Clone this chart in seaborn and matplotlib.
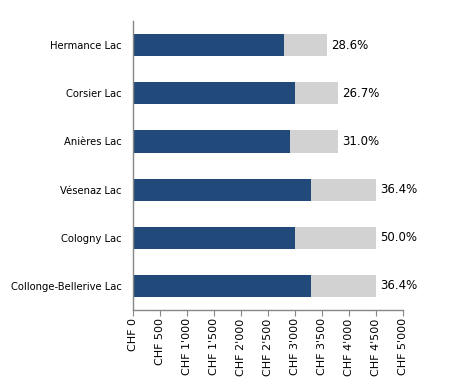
import pandas as pd
import matplotlib
matplotlib.use("Agg")
import matplotlib.pyplot as plt
import seaborn as sns

# Values
locations = ["Hermance Lac", "Corsier Lac", "Anières Lac",
             "Vésenaz Lac", "Cologny Lac", "Collonge-Bellerive Lac"]
base_cost = [2800, 3000, 2900, 3300, 3000, 3300]
extra_cost = [800, 800, 900, 1200, 1500, 1200]
pct_labels = ["28.6%", "26.7%", "31.0%", "36.4%", "50.0%", "36.4%"]
x_ticks = [0, 500, 1000, 1500, 2000, 2500, 3000, 3500, 4000, 4500, 5000]

df = pd.DataFrame({"location": locations, "base": base_cost, "extra": extra_cost})
df["total"] = df["base"] + df["extra"]

sns.set_style("white")
plt.rcParams["font.family"] = ["DejaVu Sans"]
plt.rcParams["hatch.color"] = "#b4b4b4"
plt.rcParams["hatch.linewidth"] = 0.5

fig = plt.figure(figsize=(4.49, 3.78), dpi=100)
ax = fig.add_axes([0.2962, 0.1799, 0.6014, 0.7645])

# gray (total) bars first, blue base bars on top
sns.barplot(data=df, y="location", x="total", color="#d2d2d2", width=0.46,
            orient="h", ax=ax, saturation=1, edgecolor="none", hatch="......")
sns.barplot(data=df, y="location", x="base", color="#214a7b", width=0.46,
            orient="h", ax=ax, saturation=1, edgecolor="none")

for i, (tot, lab) in enumerate(zip(df["total"], pct_labels)):
    ax.text(tot + 70, i, lab, va="center", ha="left", fontsize=8.5, color="black")

ax.set_xlim(0, 5000)
ax.set_ylim(5.5, -0.5)
ax.set_xticks(x_ticks)
ax.set_xticklabels([f"CHF {v:,}".replace(",", "'") for v in x_ticks],
                   rotation=90, fontsize=8)
ax.tick_params(axis="y", labelsize=7.2, length=0, pad=8, labelcolor="black")
ax.tick_params(axis="x", bottom=True, length=4, color="#868686", pad=2,
               labelcolor="black")
ax.set_xlabel("")
ax.set_ylabel("")

for s in ["top", "right"]:
    ax.spines[s].set_visible(False)
for s in ["left", "bottom"]:
    ax.spines[s].set_color("#868686")
    ax.spines[s].set_linewidth(1)

fig.savefig("out.png", dpi=100)
plt.close(fig)
